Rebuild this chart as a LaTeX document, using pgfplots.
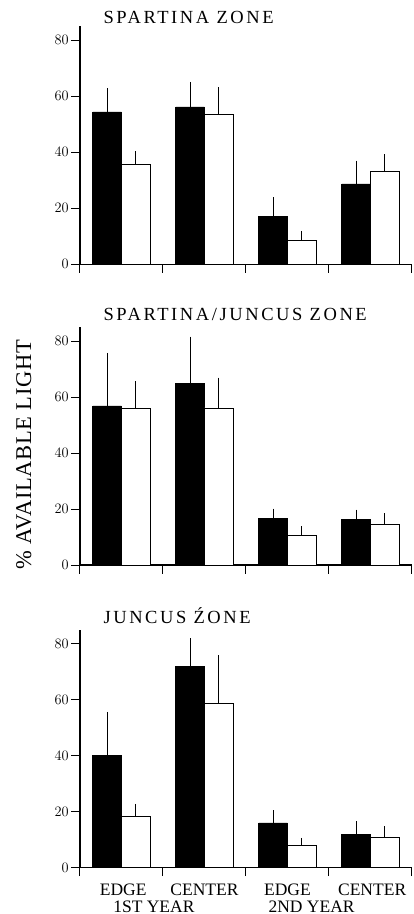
\documentclass[border=0pt]{standalone}
\usepackage{fontspec}
\setmainfont{Liberation Serif}
\newfontfamily\titlefont[LetterSpace=14]{Liberation Serif}
\newfontfamily\labelfont[LetterSpace=3]{Liberation Serif}
\usepackage{pgfplots}
\pgfplotsset{compat=1.18}

\pgfplotsset{
  panel/.style={
    scale only axis, width=332pt, height=238pt,
    xmin=0, xmax=4, ymin=0, ymax=85,
    axis x line*=bottom, axis y line*=left,
    axis line style={line width=1.2pt},
    xtick={0,1,2,3,4}, xticklabels={},
    ytick={0,20,40,60,80},
    yticklabel={\fontsize{15.5}{15.5}\selectfont\pgfmathprintnumber{\tick}},
    tick align=outside, major tick length=8.5pt,
    xtick style={line width=1pt, black},
    ytick style={line width=1pt, black},
    yticklabel style={inner sep=2.5pt},
    clip=false,
  },
  barbase/.style={ybar, bar width=0.345, bar shift=0pt, draw=black, line width=0.8pt,
     error bars/y dir=plus, error bars/y explicit,
     error bars/error bar style={line width=1.1pt, black},
     error bars/error mark options={line width=1.1pt, mark size=2.3pt, black}},
  blackbar/.style={barbase, fill=black},
  whitebar/.style={barbase, fill=white},
}
\tikzset{
  ttl/.style={anchor=base west, font=\titlefont\fontsize{18.5}{18.5}\selectfont, xshift=20pt},
  cat/.style={anchor=base, inner sep=0pt, font=\fontsize{17.5}{17.5}\selectfont},
}

\begin{document}
\begin{tikzpicture}
\useasboundingbox (-80pt,264.3pt) rectangle (334pt,-649.7pt);

% Panel 1
\begin{axis}[panel, at={(0pt,0pt)}]
\addplot[blackbar] coordinates {
 (0.3275,54.4) +- (0,7.6)
 (1.3275,56.2) +- (0,8.1)
 (2.3275,17.1) +- (0,6.1)
 (3.3275,28.7) +- (0,7.5)
};
\addplot[whitebar] coordinates {
 (0.6725,35.8) +- (0,3.7)
 (1.6725,53.6) +- (0,8.9)
 (2.6725,8.4) +- (0,2.7)
 (3.6725,33.3) +- (0,5.1)
};
\node[ttl, yshift=2.7pt] at (rel axis cs:0,1) {SPARTINA ZONE};
\end{axis}

% Panel 2
\begin{axis}[panel, at={(0pt,-300.7pt)}]
\addplot[blackbar] coordinates {
 (0.3275,56.8) +- (0,18.1)
 (1.3275,64.8) +- (0,15.9)
 (2.3275,16.5) +- (0,2.8)
 (3.3275,16.2) +- (0,2.8)
};
\addplot[whitebar] coordinates {
 (0.6725,56.0) +- (0,8.8)
 (1.6725,56.1) +- (0,10.0)
 (2.6725,10.5) +- (0,2.5)
 (3.6725,14.4) +- (0,3.3)
};
\node[ttl, yshift=6.6pt] at (rel axis cs:0,1) {SPARTINA/JUNCUS ZONE};
\node[rotate=90, anchor=center, font=\labelfont\fontsize{22.5}{22.5}\selectfont] at (rel axis cs:-0.169,0.462) {\% AVAILABLE LIGHT};
\end{axis}

% Panel 3
\begin{axis}[panel, at={(0pt,-603.4pt)}]
\addplot[blackbar] coordinates {
 (0.3275,40.1) +- (0,14.7)
 (1.3275,71.8) +- (0,9.4)
 (2.3275,16.0) +- (0,3.7)
 (3.3275,11.9) +- (0,3.9)
};
\addplot[whitebar] coordinates {
 (0.6725,18.2) +- (0,3.8)
 (1.6725,58.8) +- (0,16.3)
 (2.6725,7.8) +- (0,2.0)
 (3.6725,10.8) +- (0,3.1)
};
\node[ttl, yshift=6.6pt] at (rel axis cs:0,1) {JUNCUS ŹONE};
\node[cat, yshift=-28pt] at (axis cs:0.52,0) {EDGE};
\node[cat, yshift=-28pt] at (axis cs:1.5,0) {CENTER};
\node[cat, yshift=-28pt] at (axis cs:2.5,0) {EDGE};
\node[cat, yshift=-28pt] at (axis cs:3.52,0) {CENTER};
\node[cat, yshift=-44.3pt] at (axis cs:0.89,0) {1ST YEAR};
\node[cat, yshift=-44.3pt] at (axis cs:2.79,0) {2ND YEAR};
\end{axis}
\end{tikzpicture}
\end{document}
